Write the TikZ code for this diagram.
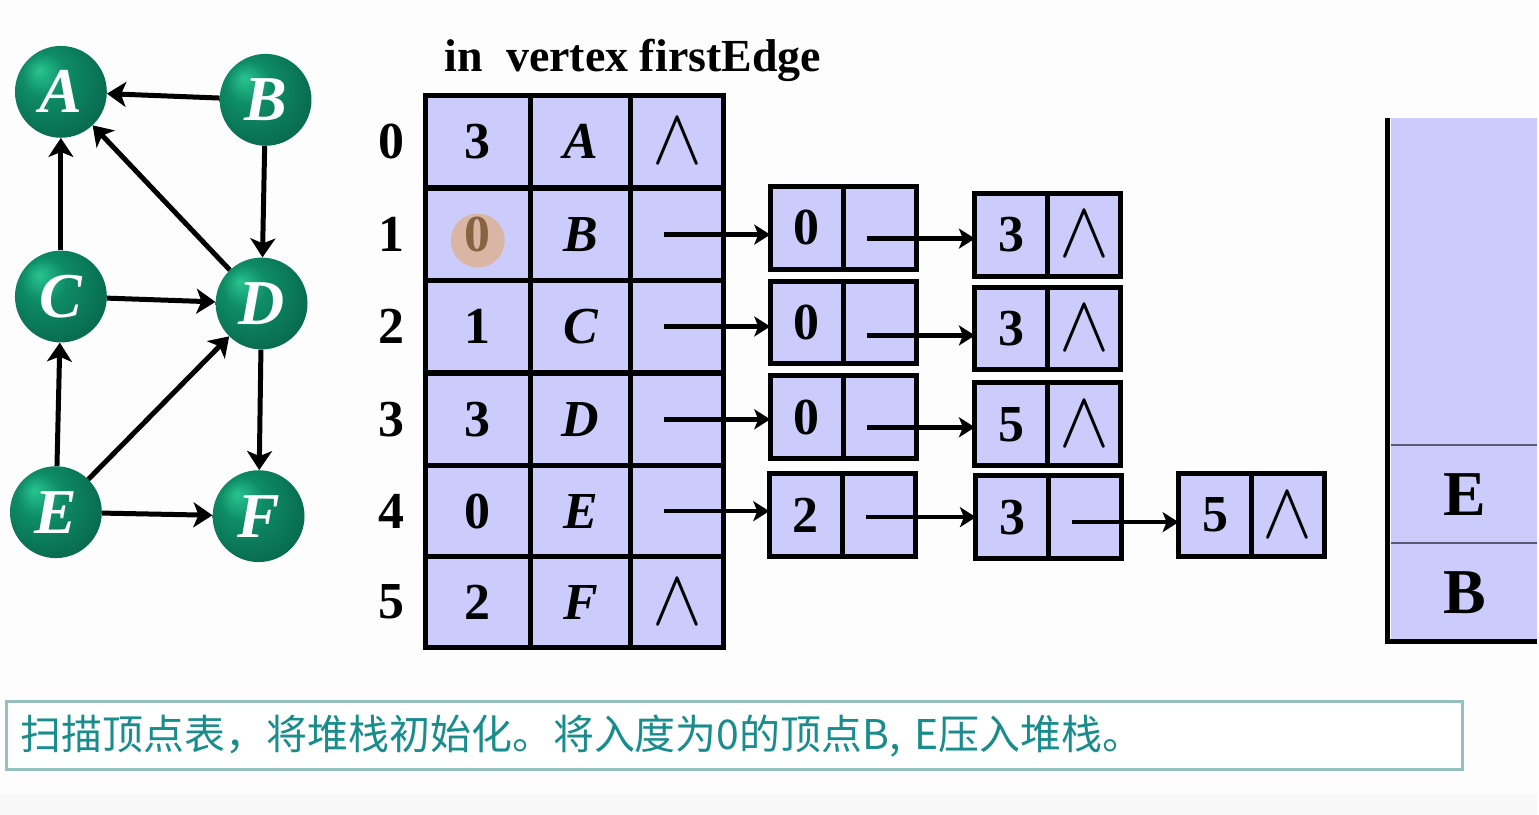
\documentclass[tikz,border=0pt]{standalone}
\usepackage{fontspec}
\setmainfont{Liberation Serif}
\newfontfamily\cjk{Noto Sans CJK SC}
\usetikzlibrary{arrows.meta,positioning}

\definecolor{lav}{RGB}{204,204,252}
\definecolor{balldark}{RGB}{8,105,78}
\definecolor{ballmid}{RGB}{14,140,102}
\definecolor{ballhi}{RGB}{40,196,142}
\definecolor{capline}{RGB}{150,192,192}
\definecolor{captext}{RGB}{25,140,140}
\definecolor{paper}{RGB}{253,253,253}
\definecolor{floor}{RGB}{248,248,248}
\definecolor{hilite}{RGB}{225,168,105}
\definecolor{stackline}{RGB}{90,90,120}

\pgfdeclareradialshading{greenball}{\pgfpoint{-12bp}{12bp}}{color(0bp)=(ballhi); color(12bp)=(ballmid); color(32bp)=(balldark); color(50bp)=(balldark)}

\newcommand{\tabfont}{\fontsize{52}{52}\selectfont\bfseries}
\newcommand{\nil}{\scalebox{7.5}[8]{\normalsize$\wedge$}}

\tikzstyle{vert} = [circle, minimum size=92pt, inner sep=0pt, shading=greenball, text=white,
	font=\fontsize{64}{64}\selectfont\bfseries\itshape]
\tikzstyle{garrow} = [-{Stealth[length=19pt,width=25pt,inset=5pt]}, line width=5pt]
\tikzstyle{link} = [-{Stealth[length=16pt,width=20pt,inset=4pt]}, line width=4.5pt]
\tikzstyle{cell} = [draw, line width=5pt, fill=lav, minimum height=92pt, inner sep=0pt, outer sep=0pt, font=\tabfont]
\tikzstyle{lcell} = [draw, line width=5pt, fill=lav, minimum height=83pt, minimum width=73pt, inner sep=0pt, outer sep=0pt, font=\tabfont]

\begin{document}
\begin{tikzpicture}[x=1pt,y=-1pt]
\fill[paper] (0,0) rectangle (1539,816);
\fill[floor] (0,795) rectangle (1539,816);

% graph
\node [vert] (A) at (61,92) {A};
\node [vert] (B) at (266,100) {B};
\node [vert] (C) at (61,297) {C};
\node [vert] (D) at (262,304) {D};
\node [vert] (E) at (56,513) {E};
\node [vert] (F) at (259,517) {F};
\draw [garrow] (B) -- (A);
\draw [garrow] (C) -- (A);
\draw [garrow] (D) -- (A);
\draw [garrow] (B) -- (D);
\draw [garrow] (C) -- (D);
\draw [garrow] (E) -- (C);
\draw [garrow] (E) -- (D);
\draw [garrow] (D) -- (F);
\draw [garrow] (E) -- (F);

% vertex table
\node [anchor=base, font=\fontsize{46}{46}\selectfont\bfseries] (head) at (634,72) {in\ \ vertex firstEdge};
\foreach \i/\d/\v/\y/\q in {0/3/A/142/\nil, 1/0/B/235/{}, 2/1/C/327/{}, 3/3/D/420/{}, 4/0/E/512/{}, 5/2/F/603/\nil}
{
	\node [font=\tabfont] (r\i) at (392,\y) {\i};
	\node [cell, minimum width=105pt] (in\i) at (478.5,\y) {\d};
	\node [cell, minimum width=101pt] (vx\i) at (581.5,\y) {\itshape\v};
	\node [cell, minimum width=93pt] (fe\i) at (678.5,\y) {\q};
}
\node [circle, fill=hilite, fill opacity=.6, minimum size=54pt, inner sep=0pt] (cur) at ([yshift=-6pt]in1.center) {};

% edge lists
\foreach \n/\x/\y/\v/\q in {11/808/228/0/{}, 12/1013/235/3/\nil, 21/808/323/0/{}, 22/1013/329/3/\nil,
	31/808/418/0/{}, 32/1013/425/5/\nil, 41/807/516/2/{}, 42/1014/518/3/{}, 43/1217/516/5/\nil}
{
	\node [lcell] (d\n) at (\x,\y) {\v};
	\node [lcell, right=0pt of d\n] (p\n) {\q};
}
\foreach \i/\n in {1/11,2/21,3/31,4/41}
	\draw [link] ([xshift=-13pt]fe\i.center) -- (fe\i.center -| d\n.west);
\foreach \a/\b/\s in {11/12/-11, 21/22/-13, 31/32/-10, 41/42/-2, 42/43/-5}
	\draw [link] ([xshift=-13pt,yshift=\s pt]p\a.center) -- ([yshift=\s pt]p\a.center -| d\b.west);

% stack
\fill [lav] (1393,118) rectangle (1539,643);
\draw [line width=2pt, stackline] (1393,446) -- (1539,446) (1393,544) -- (1539,544);
\draw [line width=5pt] (1390,118) -- (1390,643) -- (1539,643);
\node [font=\fontsize{64}{64}\selectfont\bfseries] (sE) at (1467,495) {E};
\node [font=\fontsize{64}{64}\selectfont\bfseries] (sB) at (1467,594) {B};

% caption
\node [draw=capline, line width=3pt, fill=white, text=captext, text width=1430pt, align=left,
	inner xsep=14pt, minimum height=68pt, font=\cjk\fontsize{41}{41}\selectfont] (cap) at (736,737)
	{\raisebox{-5pt}{扫描顶点表，将堆栈初始化。将入度为0的顶点B, E压入堆栈。}};
\end{tikzpicture}
\end{document}
